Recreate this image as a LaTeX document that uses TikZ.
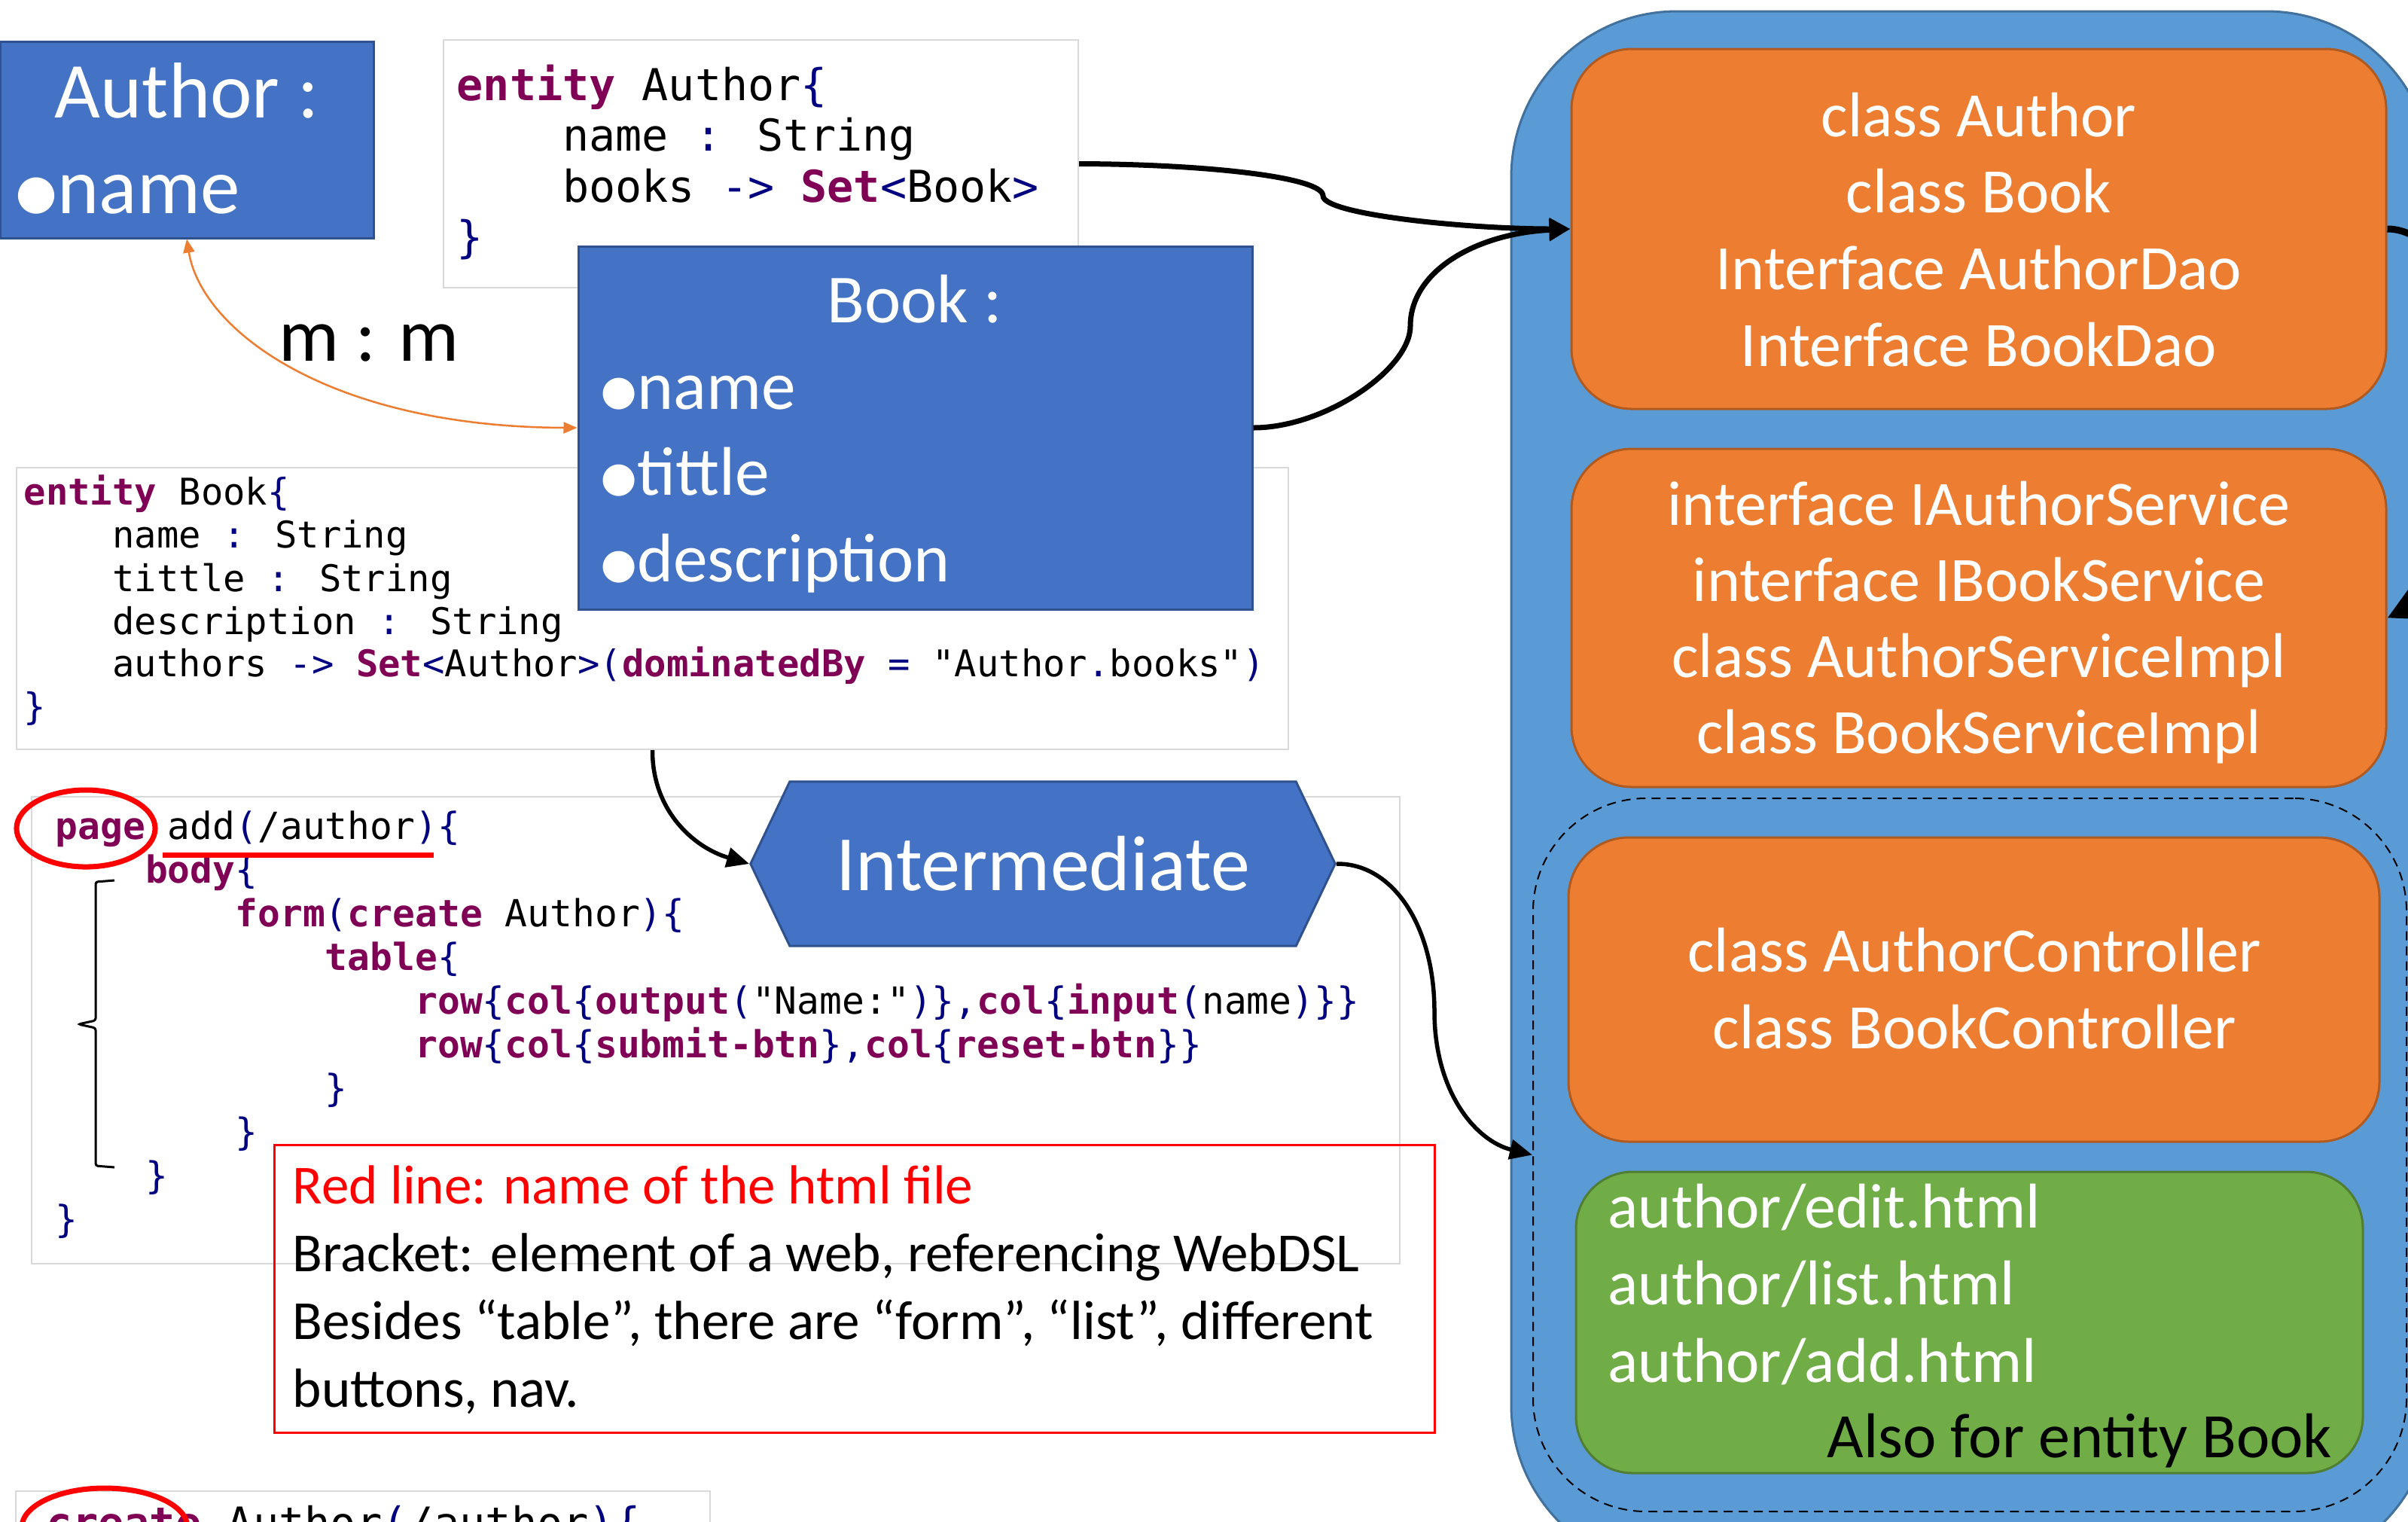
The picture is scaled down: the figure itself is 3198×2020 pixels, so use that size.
\documentclass[tikz,border=0pt]{standalone}
\usepackage{fontspec}
\usepackage{graphicx}
\setmainfont{Carlito}
\newfontfamily\codefont{DejaVu Sans Mono}
\usetikzlibrary{arrows.meta,fit,shapes.symbols}

\definecolor{nodeblue}{HTML}{4472C4}
\definecolor{nodeblueline}{HTML}{2F528F}
\definecolor{layerblue}{HTML}{5B9BD5}
\definecolor{layerblueline}{HTML}{41719C}
\definecolor{layerorange}{HTML}{ED7D31}
\definecolor{layerorangeline}{HTML}{AE5A21}
\definecolor{layergreen}{HTML}{70AD47}
\definecolor{layergreenline}{HTML}{507E32}
\definecolor{kwpurple}{HTML}{7F0055}
\definecolor{punctblue}{HTML}{000080}
\definecolor{codeframe}{HTML}{D9D9D9}
\definecolor{notered}{HTML}{FF0000}

% code highlighting: keywords and punctuation
\newcommand\kwd[1]{{\color{kwpurple}\bfseries #1}}
\newcommand\pnc[1]{{\color{punctblue}#1}}
% large attribute bullet
\newcommand\attrdot{\raisebox{-0.15em}{\scalebox{1.3}{•}}\kern-0.06em}

\tikzset{
  entitybox/.style={fill=nodeblue, draw=nodeblueline, line width=0.03cm, inner sep=0pt},
  codebox/.style={fill=white, draw=codeframe, line width=0.02cm, inner sep=0pt},
  container/.style={fill=layerblue, draw=layerblueline, line width=0.03cm, rounded corners=2.2cm, inner sep=0pt},
  layerbox/.style={fill=layerorange, draw=layerorangeline, line width=0.03cm, rounded corners=0.8cm, inner sep=0pt},
  viewbox/.style={fill=layergreen, draw=layergreenline, line width=0.03cm, rounded corners=0.75cm, inner sep=0pt},
  webgroup/.style={draw=black, dashed, dash pattern=on 0.12cm off 0.08cm, line width=0.02cm, rounded corners=1.5cm, inner sep=0pt},
  hexa/.style={signal, signal to=east and west, signal pointer angle=129,
    minimum width=7.76cm, minimum height=2.18cm, fill=nodeblue, draw=nodeblueline,
    line width=0.03cm, inner sep=0pt, text=white, font=\fontsize{29.6pt}{36pt}\selectfont},
  txt/.style={inner sep=0pt, anchor=base},
  fsA/.style={font=\fontsize{29.9pt}{36pt}\selectfont},
  fsB/.style={font=\fontsize{26pt}{32pt}\selectfont},
  fsM/.style={font=\fontsize{28.5pt}{34pt}\selectfont},
  fsL/.style={font=\fontsize{23.9pt}{29pt}\selectfont},
  fsN/.style={font=\fontsize{20.8pt}{25.6pt}\selectfont},
  codeL/.style={inner sep=0pt, anchor=base west, font=\codefont\fontsize{16.6pt}{19pt}\selectfont},
  codeS/.style={inner sep=0pt, anchor=base west, font=\codefont\fontsize{13.9pt}{16pt}\selectfont},
  codeP/.style={inner sep=0pt, anchor=base west, font=\codefont\fontsize{14.1pt}{16.5pt}\selectfont},
  flow/.style={line width=0.07cm, -{Triangle[length=0.28cm, width=0.28cm]}},
  thinflow/.style={line width=0.055cm, -{Triangle[length=0.3cm, width=0.26cm]}},
  relation/.style={draw=layerorange, line width=0.025cm,
    {Triangle[length=0.18cm, width=0.15cm]}-{Triangle[length=0.18cm, width=0.15cm]}},
  redmark/.style={draw=notered, line width=0.07cm},
  bracketline/.style={draw=black, line width=0.03cm},
}

\begin{document}
\begin{tikzpicture}[x=0.01cm, y=-0.01cm]
\useasboundingbox (0,0) rectangle (3198,2020);
\clip (0,0) rectangle (3198,2020);
\fill[white] (0,0) rectangle (3198,2020);

% ---------- code snippets ----------
\node[codebox, fit={(589,53) (1432,382)}] (acode) {};
\node[codeL] (acode-1) at (606,133) {\kwd{entity} Author\pnc{\{}};
\node[codeL] (acode-2) at (606,200.5) {\phantom{0000}name \pnc{:} String};
\node[codeL] (acode-3) at (606,268) {\phantom{0000}books \pnc{->} \kwd{Set}\pnc{<}Book\pnc{>}};
\node[codeL] (acode-4) at (606,335.5) {\pnc{\}}};

\node[codebox, fit={(22,621) (1711,995)}] (bcode) {};
\node[codeS] (bcode-1) at (31,670) {\kwd{entity} Book\pnc{\{}};
\node[codeS] (bcode-2) at (31,727.5) {\phantom{0000}name \pnc{:} String};
\node[codeS] (bcode-3) at (31,785) {\phantom{0000}tittle \pnc{:} String};
\node[codeS] (bcode-4) at (31,842) {\phantom{0000}description \pnc{:} String};
\node[codeS] (bcode-5) at (31,898.5) {\phantom{0000}authors \pnc{->} \kwd{Set}\pnc{<}Author\pnc{>(}\kwd{dominatedBy} \pnc{=} "Author\pnc{.}books"\pnc{)}};
\node[codeS] (bcode-6) at (31,955) {\pnc{\}}};

\node[codebox, fit={(42,1058) (1859,1678)}] (pcode) {};
\node[codeP] (pcode-1) at (73,1114) {\kwd{page} add\pnc{(}/author\pnc{)\{}};
\node[codeP] (pcode-2) at (73,1172) {\phantom{0000}\kwd{body}\pnc{\{}};
\node[codeP] (pcode-3) at (73,1230) {\phantom{00000000}\kwd{form}\pnc{(}\kwd{create} Author\pnc{)\{}};
\node[codeP] (pcode-4) at (73,1288) {\phantom{000000000000}\kwd{table}\pnc{\{}};
\node[codeP] (pcode-5) at (73,1346) {\phantom{0000000000000000}\kwd{row}\pnc{\{}\kwd{col}\pnc{\{}\kwd{output}\pnc{(}"Name:"\pnc{)\},}\kwd{col}\pnc{\{}\kwd{input}\pnc{(}name\pnc{)\}\}}};
\node[codeP] (pcode-6) at (73,1404) {\phantom{0000000000000000}\kwd{row}\pnc{\{}\kwd{col}\pnc{\{}\kwd{submit-btn}\pnc{\},}\kwd{col}\pnc{\{}\kwd{reset-btn}\pnc{\}\}}};
\node[codeP] (pcode-7) at (73,1462) {\phantom{000000000000}\pnc{\}}};
\node[codeP] (pcode-8) at (73,1520) {\phantom{00000000}\pnc{\}}};
\node[codeP] (pcode-9) at (73,1578) {\phantom{0000}\pnc{\}}};
\node[codeP] (pcode-10) at (73,1636) {\pnc{\}}};

% markers on the page snippet
\draw[redmark] (114,1100) ellipse [x radius=0.92cm, y radius=0.51cm];
\draw[redmark] (216,1135) -- (576,1135);
\draw[bracketline, rounded corners=0.03cm] (152,1169) -- (127,1171) -- (127,1355) -- (104,1360)
  -- (127,1365) -- (127,1548) -- (152,1550);

\node[codebox, fit={(21,1980) (943,2100)}] (ccode) {};
\node[codeL, font=\codefont\fontsize{16.2pt}{19pt}\selectfont] (ccode-1) at (61,2042) {\kwd{create} Author\pnc{(}/author\pnc{)\{}};
\draw[redmark] (139,2028) ellipse [x radius=1.1cm, y radius=0.52cm];

% ---------- entity boxes ----------
\node[entitybox, fit={(0,55) (496,316)}] (author) {};
\node[txt, fsA, text=white] (author-title) at (248,156) {Author :};
\node[txt, fsA, text=white, anchor=base west] (author-attr) at (14,283) {\attrdot name};

\node[entitybox, fit={(768,327) (1663,809)}] (book) {};
\node[txt, fsB, text=white] (book-title) at (1215,428) {Book :};
\foreach \t [count=\i] in {name, tittle, description}
  \node[txt, fsB, text=white, anchor=base west, name=book-attr-\i] at (792, {543+114.7*(\i-1)}) {\attrdot\t};

\draw[relation] (author.south) .. controls (268,440) and (440,567) .. (book.west);
\node[txt, fsM] (mm) at (490,479) {m : m};

% ---------- intermediate step ----------
\node[hexa] (inter) at (1385,1147) {Intermediate};

% ---------- note ----------
\node[draw=notered, line width=0.03cm, inner sep=0pt, fit={(364,1520) (1905,1902)}] (note) {};
\node[txt, fsN, text=notered, anchor=base west] (note-1) at (388,1598) {Red line: name of the html file};
\node[txt, fsN, anchor=base west] (note-2) at (388,1688) {Bracket: element of a web, referencing WebDSL};
\node[txt, fsN, anchor=base west] (note-3) at (388,1778) {Besides “table”, there are “form”, “list”, different};
\node[txt, fsN, anchor=base west] (note-4) at (388,1868) {buttons, nav.};

% ---------- generated application ----------
\node[container, fit={(2007,15) (3230,2086)}] (app) {};
\node[layerbox, fit={(2087,65) (3169,543)}] (dao) {};
\foreach \t [count=\i] in {class Author, class Book, Interface AuthorDao, Interface BookDao}
  \node[txt, fsL, text=white, name=dao-\i] at (2628, {181+101.7*(\i-1)}) {\t};
\node[layerbox, fit={(2087,596) (3169,1045)}] (service) {};
\foreach \t [count=\i] in {interface IAuthorService, interface IBookService, class AuthorServiceImpl, class BookServiceImpl}
  \node[txt, fsL, text=white, name=service-\i] at (2628, {697+101.3*(\i-1)}) {\t};
\node[webgroup, fit={(2036,1060) (3196,2007)}] (web) {};
\node[layerbox, fit={(2083,1112) (3160,1516)}] (controller) {};
\node[txt, fsL, text=white] (controller-1) at (2622,1290) {class AuthorController};
\node[txt, fsL, text=white] (controller-2) at (2622,1392) {class BookController};
\node[viewbox, fit={(2093,1556) (3138,1956)}] (views) {};
\foreach \t [count=\i] in {author/edit.html, author/list.html, author/add.html}
  \node[txt, fsL, text=white, anchor=base west, name=views-\i] at (2135, {1630+102.5*(\i-1)}) {\t};
\node[txt, fsL, anchor=base east] (views-note) at (3098,1935) {Also for entity Book};

% ---------- connectors ----------
\draw[flow] (acode.east) .. controls (1600,218) and (1757,235) .. (1757,260)
  .. controls (1757,285) and (1950,304) .. (dao.west);
\draw[flow] (book.east) .. controls (1760,568) and (1873,490) .. (1873,433)
  .. controls (1873,360) and (1960,310) .. (dao.west);
\draw[thinflow] (bcode.south) .. controls (866,1075) and (920,1125) .. (inter.west);
\draw[thinflow] (inter.east) .. controls (1850,1146) and (1905,1230) .. (1905,1343)
  .. controls (1905,1450) and (1960,1515) .. (web.west);
\draw[line width=0.09cm, -{Triangle[length=0.42cm, width=0.42cm]}]
  (dao.east) .. controls (3300,304) and (3420,700) .. (service.east);
\end{tikzpicture}
\end{document}
